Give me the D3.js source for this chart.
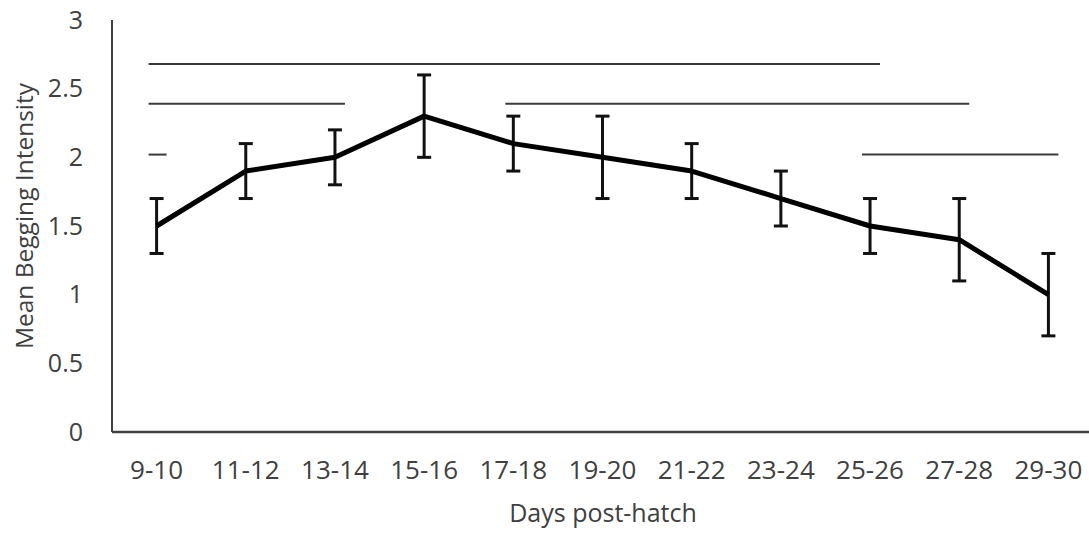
<!DOCTYPE html>
<html>
<head>
<meta charset="utf-8">
<script src="https://cdn.jsdelivr.net/npm/d3@7"></script>
<style>
  body { margin: 0; background: #fff; }
  text { font-family: "Open Sans", "Noto Sans", sans-serif; fill: #404040; }
</style>
</head>
<body>
<div id="chart"></div>
<script>
const categories = ["9-10", "11-12", "13-14", "15-16", "17-18", "19-20", "21-22", "23-24", "25-26", "27-28", "29-30"];
const means = [1.5, 1.9, 2.0, 2.3, 2.1, 2.0, 1.9, 1.7, 1.5, 1.4, 1.0];
const errors = [0.2, 0.2, 0.2, 0.3, 0.2, 0.3, 0.2, 0.2, 0.2, 0.3, 0.3];
const yTicks = [0, 0.5, 1, 1.5, 2, 2.5, 3];

// significance bars: from category, to category, height on y scale
const sigFrom = ["9-10", "9-10", "17-18", "9-10", "25-26"];
const sigTo = ["25-26", "13-14", "27-28", "9-10", "29-30"];
const sigLevel = [2.68, 2.39, 2.39, 2.02, 2.02];

const width = 1089, height = 533;
const margin = { top: 20, right: -4, bottom: 101, left: 112 };

const svg = d3.select("#chart").append("svg")
    .attr("width", width)
    .attr("height", height);

const x = d3.scaleBand()
    .domain(categories)
    .range([margin.left, width - margin.right])
    .padding(0);

const y = d3.scaleLinear()
    .domain([0, 3])
    .range([height - margin.bottom, margin.top]);

const cx = c => x(c) + x.bandwidth() / 2;

// axes
svg.append("line")
    .attr("x1", margin.left).attr("x2", margin.left)
    .attr("y1", y(3)).attr("y2", y(0))
    .attr("stroke", "#404040").attr("stroke-width", 2);
svg.append("line")
    .attr("x1", margin.left).attr("x2", width)
    .attr("y1", y(0)).attr("y2", y(0))
    .attr("stroke", "#404040").attr("stroke-width", 2.5);

svg.selectAll(".ytick")
    .data(yTicks)
    .enter().append("text")
    .attr("x", 83)
    .attr("y", d => y(d))
    .attr("dy", "0.35em")
    .attr("text-anchor", "end")
    .attr("font-size", "25px")
    .text(d => d);

svg.selectAll(".xtick")
    .data(categories)
    .enter().append("text")
    .attr("x", d => cx(d))
    .attr("y", 470)
    .attr("dy", "0.35em")
    .attr("text-anchor", "middle")
    .attr("font-size", "26px")
    .text(d => d);

svg.append("text")
    .attr("x", 603).attr("y", 513)
    .attr("dy", "0.35em")
    .attr("text-anchor", "middle")
    .attr("font-size", "25px")
    .text("Days post-hatch");

svg.append("text")
    .attr("transform", `translate(24,216) rotate(-90)`)
    .attr("dy", "0.35em")
    .attr("text-anchor", "middle")
    .attr("font-size", "24.5px")
    .text("Mean Begging Intensity");

// significance lines
const half = 8;
svg.selectAll(".sig")
    .data(sigLevel)
    .enter().append("line")
    .attr("x1", (d, i) => cx(sigFrom[i]) - half)
    .attr("x2", (d, i) => cx(sigTo[i]) + (sigFrom[i] === sigTo[i] ? half + 2 : 10))
    .attr("y1", d => y(d)).attr("y2", d => y(d))
    .attr("stroke", "#3a3a3a").attr("stroke-width", 2);

// error bars
const data = categories.map((c, i) => ({ c, m: means[i], e: errors[i] }));
const eb = svg.selectAll(".eb").data(data).enter().append("g");
eb.append("line")
    .attr("x1", d => cx(d.c)).attr("x2", d => cx(d.c))
    .attr("y1", d => y(d.m + d.e)).attr("y2", d => y(d.m - d.e))
    .attr("stroke", "#111").attr("stroke-width", 3);
[1, -1].forEach(s => {
    eb.append("line")
        .attr("x1", d => cx(d.c) - 7).attr("x2", d => cx(d.c) + 7)
        .attr("y1", d => y(d.m + s * d.e)).attr("y2", d => y(d.m + s * d.e))
        .attr("stroke", "#111").attr("stroke-width", 3);
});

// mean line
svg.append("path")
    .datum(data)
    .attr("fill", "none")
    .attr("stroke", "#000")
    .attr("stroke-width", 5)
    .attr("stroke-linejoin", "round")
    .attr("d", d3.line().x(d => cx(d.c)).y(d => y(d.m)));
</script>
</body>
</html>
